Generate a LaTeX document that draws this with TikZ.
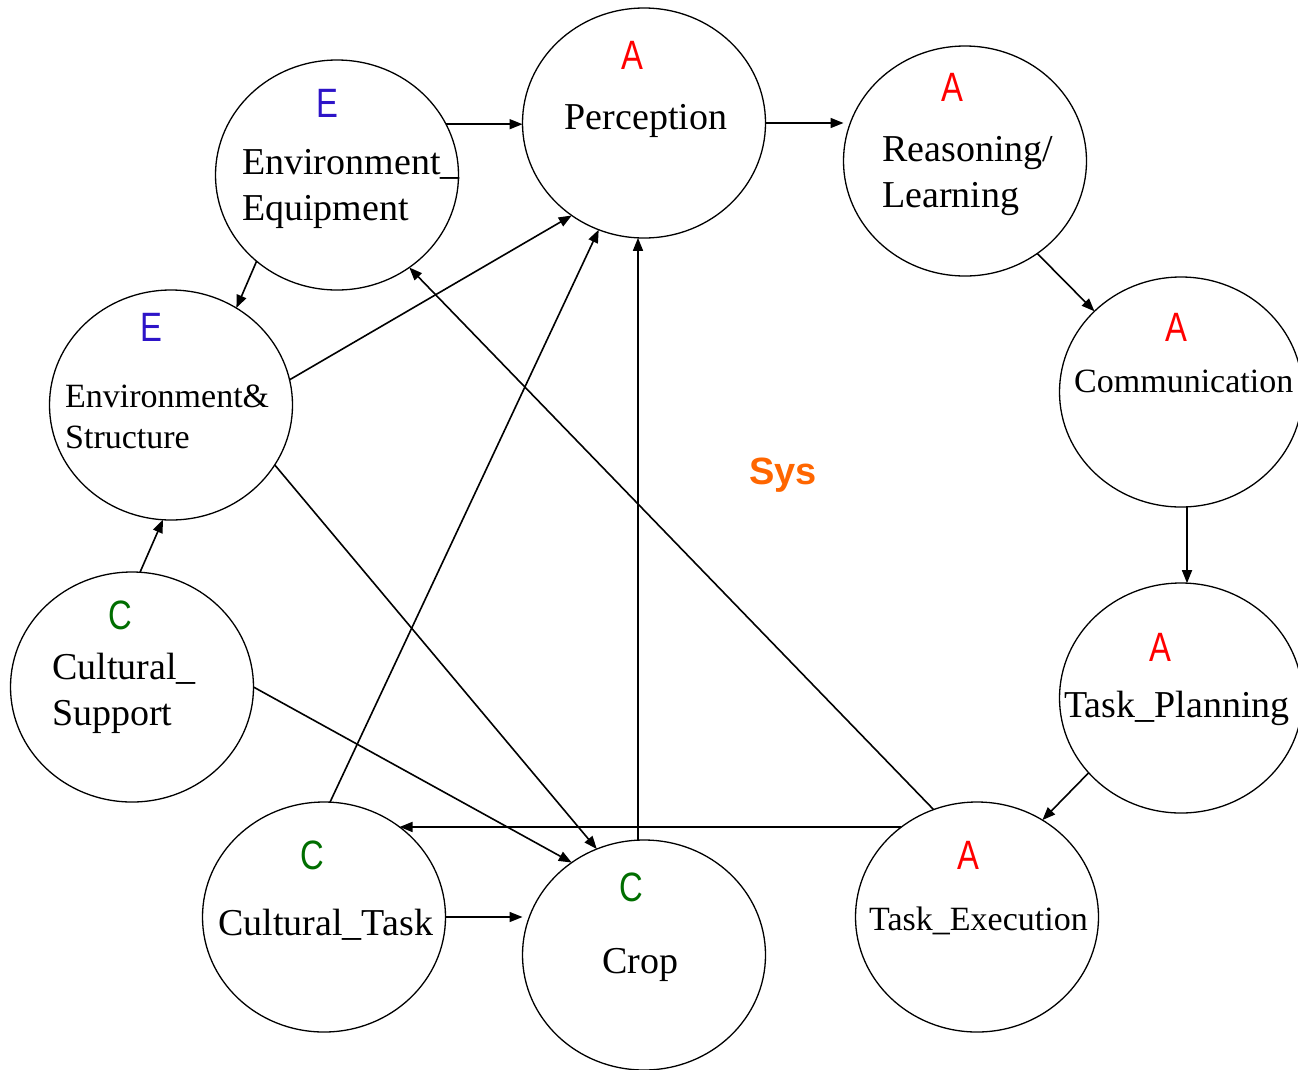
\documentclass[tikz,border=0pt]{standalone}
\usepackage{fontspec}
\setmainfont{Liberation Serif}
\newfontfamily\labfont[FakeStretch=0.8]{Liberation Sans}
\newfontfamily\sysfont{Liberation Sans}
\usetikzlibrary{shapes.geometric,arrows.meta}
\definecolor{eblue}{RGB}{45,20,200}
\definecolor{cgreen}{RGB}{0,110,0}
\definecolor{sysorange}{RGB}{255,102,0}
\begin{document}
\begin{tikzpicture}[x=1pt,y=-1pt,
  circ/.style={ellipse,draw,line width=1.3pt,minimum width=243pt,minimum height=230pt,inner sep=0pt,outer sep=0pt},
  alab/.style={inner sep=0pt,font=\labfont\fontsize{41}{41}\selectfont},
  tbig/.style={inner sep=0pt,align=left,font=\fontsize{38}{45.5}\selectfont},
  tsmall/.style={inner sep=0pt,align=left,font=\fontsize{34}{41}\selectfont},
  arr/.style={line width=1.6pt,-{Triangle[length=13pt,width=10pt]}}]
\clip (0,0) rectangle (1298,1069);
\fill[white] (0,0) rectangle (1298,1069);
% circles
\node[circ] (P)  at (644,123) {};
\node[circ] (EE) at (337,175) {};
\node[circ] (RL) at (965,161) {};
\node[circ] (CM) at (1181,392) {};
\node[circ] (TP) at (1181,698) {};
\node[circ] (TE) at (977,917) {};
\node[circ] (CR) at (644,955) {};
\node[circ] (CT) at (324,917) {};
\node[circ] (CS) at (132,687) {};
\node[circ] (ES) at (171,405) {};
% labels
\node[alab,red]    (Pa)  at (632,55)  {A};
\node[tbig,anchor=base] (Pt) at (646,129) {Perception};
\node[alab,eblue]  (EEa) at (327,103) {E};
\node[tbig,anchor=base west] (EEt) at (242,220) {Environment\_\\Equipment};
\node[alab,red]    (RLa) at (952,87)  {A};
\node[tbig,anchor=base west] (RLt) at (882,207) {Reasoning/\\Learning};
\node[alab,red]    (CMa) at (1176,327) {A};
\node[tsmall,anchor=base west] (CMt) at (1074,392) {Communication};
\node[alab,red]    (TPa) at (1160,647) {A};
\node[tbig,anchor=base west] (TPt) at (1064,717) {Task\_Planning};
\node[alab,red]    (TEa) at (968,855) {A};
\node[tsmall,anchor=base west] (TEt) at (869,930) {Task\_Execution};
\node[alab,cgreen] (CRa) at (631,887) {C};
\node[tbig,anchor=base] (CRt) at (640,973) {Crop};
\node[alab,cgreen] (CTa) at (312,855) {C};
\node[tbig,anchor=base west] (CTt) at (218,935) {Cultural\_Task};
\node[alab,cgreen] (CSa) at (120,615) {C};
\node[tbig,anchor=base west] (CSt) at (52,725) {Cultural\_\\Support};
\node[alab,eblue]  (ESa) at (151,327) {E};
\node[tsmall,anchor=base west] (ESt) at (65,448) {Environment\&\\Structure};
\node[inner sep=0pt,anchor=base west,text=sysorange,font=\sysfont\bfseries\fontsize{38}{38}\selectfont] (sys) at (749,484) {Sys};
% connectors
\draw[arr] (EE.25) -- (EE.25 -| P.west);
\draw[arr] (P.east) -- (P.east -| RL.west);
\draw[arr] (RL.-52) -- (CM.137);
\draw[arr] (CM.-87) -- (TP.87);
\draw[arr] (TP.219) -- (TE.56);
\draw[arr] (TE.130) -- (CT.50);
\draw[arr] (TE.112) -- (EE.-52);
\draw[arr] (CT.east) -- (CT.east -| CR.west);
\draw[arr] (CT.87) -- (P.-113);
\draw[arr] (CR.93) -- (P.267);
\draw[arr] (ES.12) -- (P.-128);
\draw[arr] (ES.-30) -- (CR.114);
\draw[arr] (CS.east) -- (CR.128);
\draw[arr] (CS.86) -- (ES.-94);
\draw[arr] (EE.227) -- (ES.56);
\end{tikzpicture}
\end{document}
